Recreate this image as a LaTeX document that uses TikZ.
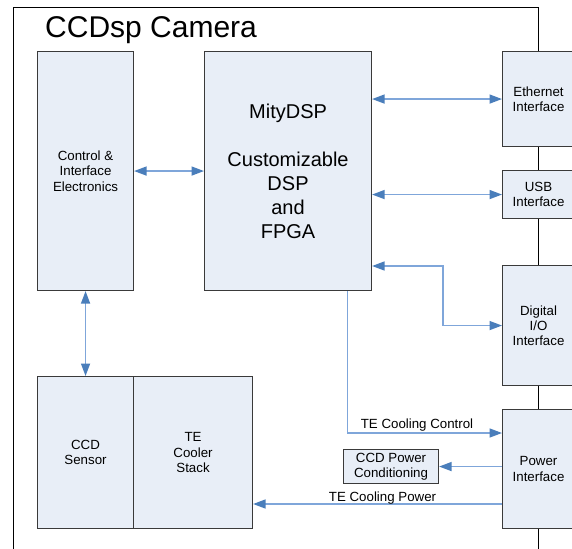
\documentclass[tikz,border=0pt]{standalone}
\usepackage{fontspec}
\setmainfont{Liberation Sans}
\usetikzlibrary{arrows.meta,calc}
\definecolor{boxfill}{HTML}{E8EEF7}
\definecolor{boxline}{HTML}{3A3A3A}
\definecolor{connline}{HTML}{7FA6DA}
\definecolor{tipcol}{HTML}{4A7EBB}
\tikzset{
  blk/.style={draw=boxline, fill=boxfill, line width=1.1pt, anchor=north west, align=center,
              inner sep=0pt, font=\fontsize{13.3}{15.3}\selectfont},
  frameline/.style={draw=black, line width=1pt},
  tipa/.tip={Triangle[length=12.5pt,width=9pt,color=tipcol]},
  conn/.style={draw=connline, line width=1.5pt},
  lbl/.style={font=\fontsize{13.3}{15.3}\selectfont, inner sep=1pt}
}
\begin{document}
\begin{tikzpicture}[x=1pt,y=-1pt]
\useasboundingbox (0,0) rectangle (572,548);
\clip (0,0) rectangle (572,548);
\fill[white] (0,0) rectangle (572,548);
% outer frame
\draw[frameline] (13,560) -- (13,8) -- (538,8) -- (538,560);
\node[anchor=base west, inner sep=0pt, font=\fontsize{30}{36}\selectfont] (title) at (45,38) {CCDsp Camera};
% blocks
\node[blk, minimum width=96pt, minimum height=239pt] (ctrl) at (37,51) {Control \&\\Interface\\Electronics};
\node[blk, minimum width=167pt, minimum height=239pt, font=\fontsize{20}{24}\selectfont] (mity) at (204,51) {MityDSP\\[24pt]Customizable\\DSP\\and\\FPGA};
\node[blk, minimum width=72pt, minimum height=95pt] (eth) at (502,51) {Ethernet\\Interface};
\node[blk, minimum width=72pt, minimum height=48pt] (usb) at (502,170) {USB\\Interface};
\node[blk, minimum width=72pt, minimum height=120pt] (dig) at (502,265) {Digital\\I/O\\Interface};
\node[blk, minimum width=72pt, minimum height=119pt] (pwr) at (502,409) {Power\\Interface};
\node[blk, minimum width=96pt, minimum height=152pt] (ccd) at (37,376) {CCD\\Sensor};
\node[blk, minimum width=119pt, minimum height=152pt] (te) at (133,376) {TE\\Cooler\\Stack};
\node[blk, minimum width=95pt, minimum height=34pt] (pc) at (343,449) {CCD Power\\Conditioning};
% connectors
\draw[conn, {tipa}-{tipa}] (ctrl.east) -- (mity.west);
\draw[conn, {tipa}-{tipa}] (eth.west -| mity.east) -- (eth.west);
\draw[conn, {tipa}-{tipa}] (usb.west -| mity.east) -- (usb.west);
\coordinate (dj) at (443,266);
\draw[conn, {tipa}-{tipa}] (dj -| mity.east) -- (dj) |- (dig.west);
\draw[conn, {tipa}-{tipa}] (ctrl.south) -- (ccd.north);
\coordinate (tc) at (347.5,433);
\draw[conn, -{tipa}] (tc |- mity.south) -- (tc) -- node[lbl, above, pos=0.45] {TE Cooling Control} (tc -| pwr.west);
\draw[conn, -{tipa}] (pc.east -| pwr.west) -- (pc.east);
\coordinate (tp) at (502,504);
\draw[conn, -{tipa}] (tp) -- node[lbl, above, pos=0.48, yshift=-2pt] {TE Cooling Power} (tp -| te.east);
\end{tikzpicture}
\end{document}
